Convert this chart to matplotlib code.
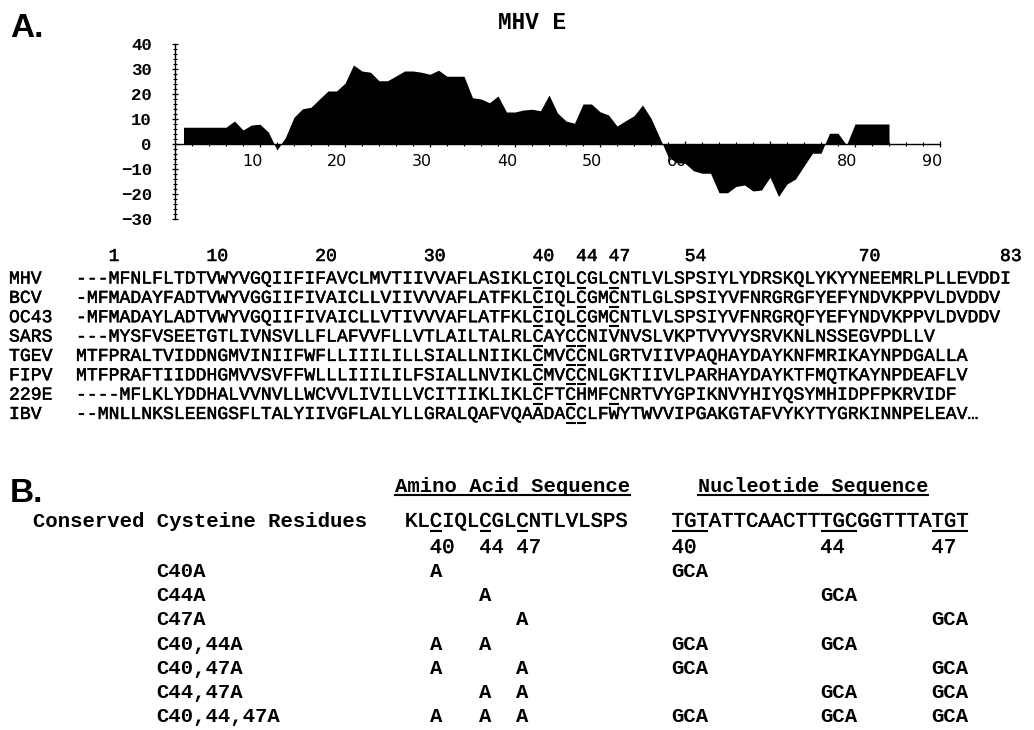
import matplotlib
matplotlib.use("Agg")
import matplotlib.pyplot as plt
import matplotlib.patheffects as pe
from matplotlib.ticker import MultipleLocator
from matplotlib.transforms import ScaledTranslation

# ---------------- data ----------------
residue_pos = list(range(1, 85))
hydropathy = [6.7, 6.7, 6.7, 6.7, 6.7, 6.7, 9.2, 5.6, 7.6, 7.9,
              4.7, -2.4, 2.7, 10.7, 14.1, 14.7, 18.0, 21.2, 21.2, 24.3,
              31.6, 29.2, 28.7, 25.3, 25.3, 27.2, 29.2, 29.2, 28.7, 27.9,
              29.5, 27.1, 27.1, 27.1, 18.5, 18.0, 16.5, 19.2, 12.8, 12.8,
              13.6, 13.9, 13.3, 19.6, 12.4, 9.2, 8.3, 16.0, 16.0, 12.9,
              11.6, 7.2, 9.3, 11.3, 15.6, 10.3, 2.7, -5.0, -7.5, -7.7,
              -10.7, -11.7, -11.7, -19.5, -19.5, -17.0, -16.4, -18.8, -18.4, -13.3,
              -21.0, -16.0, -14.0, -8.8, -3.7, -3.7, 4.3, 4.3, -0.4, 8.0,
              8.0, 8.0, 8.0, 8.0]
x_ticks = [10, 20, 30, 40, 50, 60, 70, 80, 90]
y_ticks = [-30, -20, -10, 0, 10, 20, 30, 40]
plot_title = "MHV E"

seq_names = ["MHV", "BCV", "OC43", "SARS", "TGEV", "FIPV", "229E", "IBV"]
seq_rows = [
    "---MFNLFLTDTVWYVGQIIFIFAVCLMVTIIVVAFLASIKLCIQLCGLCNTLVLSPSIYLYDRSKQLYKYYNEEMRLPLLEVDDI",
    "-MFMADAYFADTVWYVGGIIFIVAICLLVIIVVVAFLATFKLCIQLCGMCNTLGLSPSIYVFNRGRGFYEFYNDVKPPVLDVDDV",
    "-MFMADAYLADTVWYVGQIIFIVAICLLVTIVVVAFLATFKLCIQLCGMCNTLVLSPSIYVFNRGRQFYEFYNDVKPPVLDVDDV",
    "---MYSFVSEETGTLIVNSVLLFLAFVVFLLVTLAILTALRLCAYCCNIVNVSLVKPTVYVYSRVKNLNSSEGVPDLLV",
    "MTFPRALTVIDDNGMVINIIFWFLLIIILILLSIALLNIIKLCMVCCNLGRTVIIVPAQHAYDAYKNFMRIKAYNPDGALLA",
    "MTFPRAFTIIDDHGMVVSVFFWLLLIIILILFSIALLNVIKLCMVCCNLGKTIIVLPARHAYDAYKTFMQTKAYNPDEAFLV",
    "----MFLKLYDDHALVVNVLLWCVVLIVILLVCITIIKLIKLCFTCHMFCNRTVYGPIKNVYHIYQSYMHIDPFPKRVIDF",
    "--MNLLNKSLEENGSFLTALYIIVGFLALYLLGRALQAFVQAADACCLFWYTWVVIPGAKGTAFVYKYTYGRKINNPELEAV\u2026",
]
cys_columns = [[42, 46, 49], [42, 46, 49], [42, 46, 49], [42, 45, 46],
               [42, 45, 46], [42, 45, 46], [42, 45, 49], [45, 46]]
ruler_labels = [1, 10, 20, 30, 40, 44, 47, 54, 70, 83]
mhv_offset = 3  # leading gap characters in the MHV row

aa_header = "Amino Acid Sequence"
nt_header = "Nucleotide Sequence"
row_header = "Conserved Cysteine Residues"
aa_segment = "KLCIQLCGLCNTLVLSPS"
aa_segment_start = 38
nt_segment = "TGTATTCAACTTTGCGGTTTATGT"
nt_segment_start = 40
cys_sites = [40, 44, 47]
mutants = ["C40A", "C44A", "C47A", "C40,44A", "C40,47A", "C44,47A", "C40,44,47A"]
mutated_sites = [[40], [44], [47], [40, 44], [40, 47], [44, 47], [40, 44, 47]]
aa_replacement = "A"
codon_replacement = "GCA"

# ---------------- figure ----------------
W, H, DPI = 1034, 730, 100
fig = plt.figure(figsize=(W / DPI, H / DPI), dpi=DPI)
MONO = ["Liberation Mono", "DejaVu Sans Mono"]
heavy = [pe.withStroke(linewidth=0.35, foreground="black")]

def fs_for(cw):
    return cw * 72.0 / (0.6 * DPI)

# hydropathy plot
ax = fig.add_axes([175 / W, 1 - 219 / H, 765 / W, 175 / H])
ax.fill_between(residue_pos, hydropathy, 0, color="black", lw=0, zorder=3)
ax.set_xlim(0, 90)
ax.set_ylim(-30, 40)
ax.spines["top"].set_visible(False)
ax.spines["right"].set_visible(False)
ax.spines["bottom"].set_position(("data", 0))
for s in ("left", "bottom"):
    ax.spines[s].set_linewidth(1.0)
ax.set_xticks(x_ticks)
ax.set_xticklabels([str(t) for t in x_ticks], fontfamily="DejaVu Sans", fontsize=11.5)
ax.set_yticks(y_ticks)
ax.set_yticklabels([("\u2212%d" % -t) if t < 0 else str(t) for t in y_ticks],
                   fontfamily=MONO, fontweight="bold", fontsize=12.5)
ax.xaxis.set_minor_locator(MultipleLocator(2))
ax.yaxis.set_minor_locator(MultipleLocator(2))
ax.tick_params(axis="x", which="major", direction="inout", length=4.5, width=0.9, pad=5.0)
ax.tick_params(axis="x", which="minor", direction="inout", length=3, width=0.8)
ax.tick_params(axis="y", which="major", direction="inout", length=4.5, width=0.9, pad=14.4)
ax.tick_params(axis="y", which="minor", direction="inout", length=3, width=0.8)
off = ScaledTranslation(-7.7 / DPI, 0, fig.dpi_scale_trans)
for t in ax.xaxis.get_major_ticks():
    t.label1.set_transform(t.label1.get_transform() + off)

# overlay for text (pixel coordinates)
tx = fig.add_axes([0, 0, 1, 1], zorder=5)
tx.set_xlim(0, W)
tx.set_ylim(H, 0)
tx.axis("off")
tx.patch.set_visible(False)

tx.text(10.5, 36.7, "A.", fontfamily="Liberation Sans", fontweight="bold", fontsize=24,
        ha="left", va="baseline")
tx.text(498, 29, plot_title, fontfamily=MONO, fontweight="bold", fontsize=16.3,
        ha="left", va="baseline")

# alignment
cw = 10.87
fs_seq = fs_for(cw)
x0 = 76.0
base0 = 283.5
step = 19.35
for lab in ruler_labels:
    col = lab + mhv_offset - 1
    tx.text(x0 + col * cw, 261, str(lab), fontfamily=MONO, fontsize=fs_seq,
            ha="left", va="baseline", path_effects=heavy)
for i, (name, seq, cols) in enumerate(zip(seq_names, seq_rows, cys_columns)):
    yb = base0 + i * step
    tx.text(9, yb, name, fontfamily=MONO, fontsize=fs_seq, ha="left", va="baseline",
            path_effects=heavy)
    tx.text(x0, yb, seq, fontfamily=MONO, fontsize=fs_seq, ha="left", va="baseline",
            path_effects=heavy)
    for c in cols:
        tx.plot([x0 + c * cw + 0.5, x0 + (c + 1) * cw - 0.5], [yb + 4.0, yb + 4.0],
                color="black", lw=1.5, solid_capstyle="butt")

# part B
tx.text(10, 501.7, "B.", fontfamily="Liberation Sans", fontweight="bold", fontsize=24,
        ha="left", va="baseline")
cwb = 12.37
fsb = fs_for(cwb)
aa_x = 405.0
nt_x = 671.7
hdr_y = 491.7
tx.text(395, hdr_y, aa_header, fontfamily=MONO, fontweight="bold", fontsize=fsb,
        ha="left", va="baseline")
tx.plot([395, 395 + len(aa_header) * cwb], [hdr_y + 3.5, hdr_y + 3.5], color="black", lw=1.5)
tx.text(698.3, hdr_y, nt_header, fontfamily=MONO, fontweight="bold", fontsize=fs_for(12.1),
        ha="left", va="baseline")
tx.plot([698.3, 698.3 + len(nt_header) * 12.1], [hdr_y + 3.5, hdr_y + 3.5], color="black", lw=1.5)

seq_y = 526.7
tx.text(33, seq_y, row_header, fontfamily=MONO, fontweight="bold", fontsize=fsb,
        ha="left", va="baseline")
tx.text(aa_x, seq_y, aa_segment, fontfamily=MONO, fontsize=fsb, ha="left", va="baseline",
        path_effects=heavy)
tx.text(nt_x, seq_y, nt_segment, fontfamily=MONO, fontsize=fsb, ha="left", va="baseline",
        path_effects=heavy)
num_y = 553.0
for site in cys_sites:
    ca = site - aa_segment_start
    cn = (site - nt_segment_start) * 3
    tx.plot([aa_x + ca * cwb + 0.5, aa_x + (ca + 1) * cwb - 0.5], [seq_y + 4.5, seq_y + 4.5],
            color="black", lw=1.5, solid_capstyle="butt")
    tx.plot([nt_x + cn * cwb + 0.5, nt_x + (cn + 3) * cwb - 0.5], [seq_y + 4.5, seq_y + 4.5],
            color="black", lw=1.5, solid_capstyle="butt")
    tx.text(aa_x + ca * cwb, num_y, str(site), fontfamily=MONO, fontsize=fsb,
            ha="left", va="baseline", path_effects=heavy)
    tx.text(nt_x + cn * cwb, num_y, str(site), fontfamily=MONO, fontsize=fsb,
            ha="left", va="baseline", path_effects=heavy)

row0 = 577.0
rstep = 24.2
for k, (mut, sites) in enumerate(zip(mutants, mutated_sites)):
    yb = row0 + k * rstep
    tx.text(156.7, yb, mut, fontfamily=MONO, fontweight="bold", fontsize=fsb,
            ha="left", va="baseline")
    for site in sites:
        ca = site - aa_segment_start
        cn = (site - nt_segment_start) * 3
        tx.text(aa_x + ca * cwb, yb, aa_replacement, fontfamily=MONO, fontweight="bold",
                fontsize=fsb, ha="left", va="baseline")
        tx.text(nt_x + cn * cwb, yb, codon_replacement, fontfamily=MONO, fontweight="bold",
                fontsize=fsb, ha="left", va="baseline")

fig.savefig("out.png", dpi=DPI)
